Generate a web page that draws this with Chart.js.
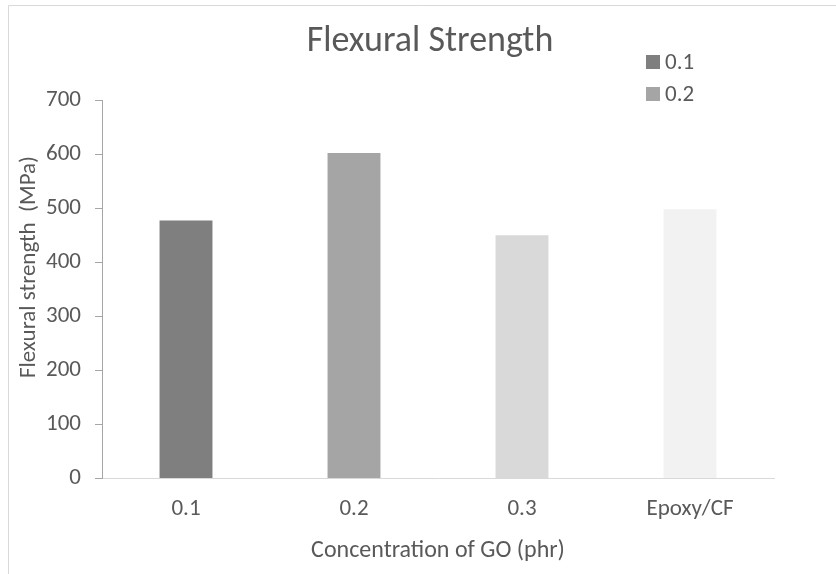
<!DOCTYPE html>
<html>
<head>
<meta charset="utf-8">
<script src="https://cdn.jsdelivr.net/npm/chart.js@4/dist/chart.umd.min.js"></script>
<style>
  html, body { margin: 0; padding: 0; background: #ffffff; }
  #wrap { position: relative; width: 836px; height: 574px; }
  canvas { display: block; }
</style>
</head>
<body>
<div id="wrap"><canvas id="chart" width="836" height="574"></canvas></div>
<script>
// Flexural strength for each GO loading and the neat Epoxy/CF reference
const categories = ['0.1', '0.2', '0.3', 'Epoxy/CF'];
const strengthValues = [477, 602, 450, 498];
const barColors = ['#7f7f7f', '#a5a5a5', '#d9d9d9', '#f2f2f2'];
const legendEntries = ['0.1', '0.2'];
const yMin = 0, yMax = 700, yStep = 100;

const chartTitle = 'Flexural Strength';
const xAxisTitle = 'Concentration of GO (phr)';
const yAxisTitle = 'Flexural strength  (MPa)';

const FONT = 'Carlito, Lato, sans-serif';
const TEXT = '#595959';

// Frame, title, legend and vertical axis title
const decorations = {
  id: 'decorations',
  beforeDraw(chart) {
    const ctx = chart.ctx;
    ctx.save();
    ctx.strokeStyle = '#d9d9d9';
    ctx.lineWidth = 1;
    ctx.beginPath();
    ctx.moveTo(8.5, 574);
    ctx.lineTo(8.5, 5.5);
    ctx.lineTo(836, 5.5);
    ctx.stroke();
    ctx.restore();
  },
  afterDraw(chart) {
    const ctx = chart.ctx;
    ctx.save();
    ctx.fillStyle = TEXT;

    ctx.font = '36px ' + FONT;
    ctx.textAlign = 'center';
    ctx.textBaseline = 'alphabetic';
    ctx.fillText(chartTitle, 430, 51);

    ctx.font = '23px ' + FONT;
    ctx.textAlign = 'left';
    legendEntries.forEach((label, i) => {
      const idx = categories.indexOf(label);
      const y = 55 + i * 32;
      ctx.fillStyle = barColors[idx];
      ctx.fillRect(646, y, 14, 14);
      ctx.fillStyle = TEXT;
      ctx.fillText(label, 665, y + 14);
    });

    ctx.translate(29.5, 267);
    ctx.rotate(-Math.PI / 2);
    ctx.textAlign = 'center';
    ctx.textBaseline = 'middle';
    ctx.font = '23px ' + FONT;
    ctx.fillText(yAxisTitle, 0, 0);
    ctx.restore();
  }
};

new Chart(document.getElementById('chart'), {
  type: 'bar',
  data: {
    labels: categories,
    datasets: [{
      label: 'Flexural strength',
      data: strengthValues,
      backgroundColor: barColors,
      borderWidth: 0,
      barPercentage: 1,
      categoryPercentage: 0.315
    }]
  },
  options: {
    responsive: false,
    animation: false,
    layout: { padding: { left: 0, top: 100, right: 62, bottom: 0 } },
    plugins: {
      legend: { display: false },
      title: { display: false },
      tooltip: { enabled: false }
    },
    scales: {
      x: {
        afterFit(scale) { scale.height = 95.5; },
        grid: { display: false, drawTicks: false },
        border: { display: true, color: '#d9d9d9', width: 1 },
        ticks: { color: TEXT, font: { family: FONT, size: 23 }, padding: 17 },
        title: {
          display: true,
          text: xAxisTitle,
          color: TEXT,
          font: { family: FONT, size: 24 },
          padding: { top: 0, bottom: 9 }
        }
      },
      y: {
        min: yMin,
        max: yMax,
        afterFit(scale) { scale.width = 102; },
        grid: { drawOnChartArea: false, drawTicks: true, tickLength: 7, color: '#a6a6a6' },
        border: { display: true, color: '#a6a6a6', width: 1 },
        ticks: { stepSize: yStep, color: TEXT, font: { family: FONT, size: 23 }, padding: 14 }
      }
    }
  },
  plugins: [decorations]
});
</script>
</body>
</html>
